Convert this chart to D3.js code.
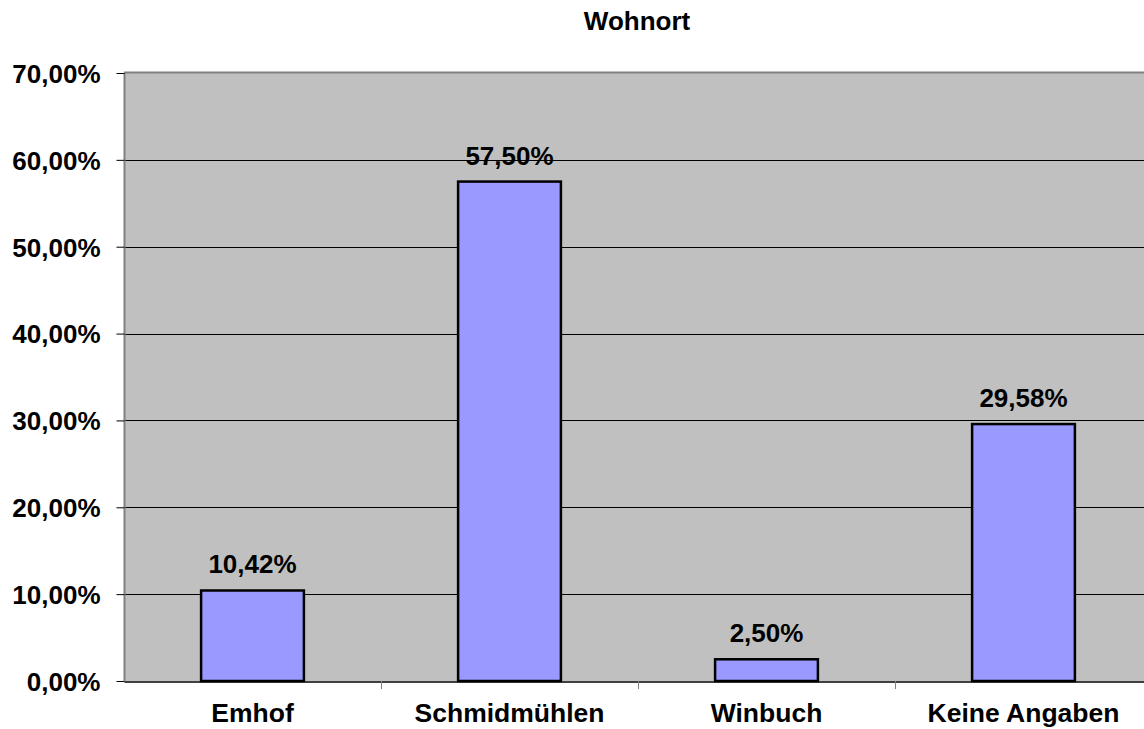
<!DOCTYPE html>
<html>
<head>
<meta charset="utf-8">
<script src="https://cdn.jsdelivr.net/npm/d3@7"></script>
<style>
  body { margin: 0; background: #fff; }
  svg text { font-family: "Liberation Sans", Arial, sans-serif; font-weight: bold; fill: #000; }
</style>
</head>
<body>
<script>
const w = 1144
const h = 729
const categories = ['Emhof', 'Schmidmühlen', 'Winbuch', 'Keine Angaben']
const values = [10.42, 57.50, 2.50, 29.58]
const yTicks = [0, 10, 20, 30, 40, 50, 60, 70]
const title = 'Wohnort'

const pLeft = 124, pTop = 73, pBottom = 681, pRight = 1152
const fmt = v => v.toFixed(2).replace('.', ',') + '%'

const svg = d3.select('body').append('svg').attr('width', w).attr('height', h)

const x = d3.scaleBand().domain(categories).range([pLeft, pRight]).paddingInner(0.6).paddingOuter(0.3)
const xb = d3.scaleBand().domain(categories).range([pLeft, pRight])
const y = d3.scaleLinear().domain([0, 70]).range([pBottom, pTop])

// plot area
svg.append('rect').attr('x', pLeft).attr('y', pTop).attr('width', pRight - pLeft).attr('height', pBottom - pTop)
  .attr('fill', '#c0c0c0')
svg.append('line').attr('x1', pLeft).attr('x2', pRight).attr('y1', pTop - 0.5).attr('y2', pTop - 0.5)
  .attr('stroke', '#808080').attr('stroke-width', 2)

// gridlines
svg.append('g').selectAll('line').data(yTicks.filter(d => d > 0 && d < 70)).enter().append('line')
  .attr('x1', pLeft).attr('x2', pRight)
  .attr('y1', d => Math.round(y(d)) + 0.5).attr('y2', d => Math.round(y(d)) + 0.5)
  .attr('stroke', '#000').attr('stroke-width', 1)

// bars
svg.append('g').selectAll('rect').data(values).enter().append('rect')
  .attr('x', (d, i) => x(categories[i]))
  .attr('y', d => y(d))
  .attr('width', x.bandwidth())
  .attr('height', d => pBottom - y(d))
  .attr('fill', '#9999ff').attr('stroke', '#000').attr('stroke-width', 2.5)

// value labels
svg.append('g').selectAll('text').data(values).enter().append('text')
  .attr('x', (d, i) => x(categories[i]) + x.bandwidth() / 2)
  .attr('y', d => y(d) - 17)
  .attr('text-anchor', 'middle').style('font-size', '26px')
  .text(d => fmt(d))

// y axis
const yAxis = d3.axisLeft(y).tickValues(yTicks).tickSize(8).tickPadding(16).tickFormat(fmt)
const gy = svg.append('g').attr('transform', 'translate(' + (pLeft + 0.5) + ',0)').call(yAxis)
gy.select('.domain').attr('stroke', '#808080').attr('stroke-width', 2).attr('d', 'M0,' + pTop + 'V' + pBottom)
gy.selectAll('.tick line').attr('stroke', '#000')
gy.selectAll('.tick text').style('font-size', '26px').attr('dy', '0.36em')

// x axis
const xAxis = d3.axisBottom(xb).tickSize(0).tickPadding(22)
const gx = svg.append('g').attr('transform', 'translate(0,' + (pBottom + 0.5) + ')').call(xAxis)
gx.select('.domain').attr('stroke', '#000').attr('stroke-width', 1.5)
gx.selectAll('.tick text').style('font-size', '26.5px').attr('dy', '0.71em')
svg.append('g').selectAll('line').data(categories.slice(1)).enter().append('line')
  .attr('x1', d => Math.round(xb(d)) + 0.5).attr('x2', d => Math.round(xb(d)) + 0.5)
  .attr('y1', pBottom).attr('y2', pBottom + 8)
  .attr('stroke', '#808080').attr('stroke-width', 1)

// title
svg.append('text').attr('x', 637).attr('y', 30).attr('text-anchor', 'middle')
  .style('font-size', '26px').text(title)
</script>
</body>
</html>
